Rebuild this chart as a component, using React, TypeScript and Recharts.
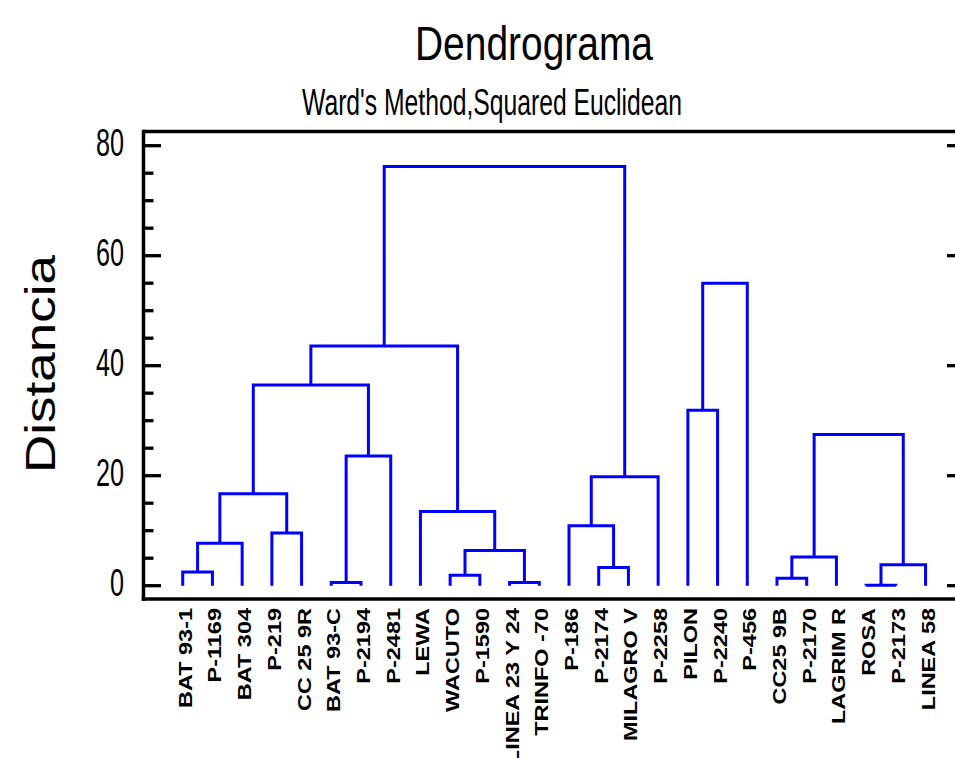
import React from 'react';
import { LineChart, Line, XAxis, YAxis, ReferenceLine } from 'recharts';

// Leaf labels, in dendrogram order
const leaves = [
  'BAT 93-1', 'P-1169', 'BAT 304', 'P-219', 'CC 25 9R', 'BAT 93-C', 'P-2194', 'P-2481',
  'LEWA', 'WACUTO', 'P-1590', 'LINEA 23 Y 24', 'TRINFO -70', 'P-186', 'P-2174', 'MILAGRO V',
  'P-2258', 'PILON', 'P-2240', 'P-456', 'CC25 9B', 'P-2170', 'LAGRIM R', 'ROSA', 'P-2173', 'LINEA 58',
];

// Linkage (ids < 26 are leaves, row k creates cluster 26 + k)
const linkLeft = [0, 26, 3, 27, 5, 30, 29, 9, 11, 33, 8, 32, 14, 13, 39, 37, 17, 42, 20, 44, 23, 46, 45];
const linkRight = [1, 2, 4, 28, 6, 7, 31, 10, 12, 34, 35, 36, 15, 38, 16, 40, 18, 19, 21, 22, 24, 25, 47];
const linkHeight = [2.5, 7.7, 9.6, 16.7, 0.6, 23.6, 36.5, 1.9, 0.6, 6.4, 13.5, 43.6, 3.3, 10.9, 19.8, 76.2, 31.9, 55.0, 1.35, 5.2, 0.1, 3.8, 27.5];

const yTicksAll = [0, 5, 10, 15, 20, 25, 30, 35, 40, 45, 50, 55, 60, 65, 70, 75, 80];
const yTicksMajor = [0, 20, 40, 60, 80];

const xDomain: [number, number] = [-1.32, 26.26];
const yDomain: [number, number] = [-2.42, 82.58];

const pos: number[] = leaves.map((_, i) => i);
const hgt: number[] = leaves.map(() => 0);
const segments = linkLeft.map((a, k) => {
  const b = linkRight[k];
  const h = linkHeight[k];
  const pts = [
    { x: pos[a], y: hgt[a] },
    { x: pos[a], y: h },
    { x: pos[b], y: h },
    { x: pos[b], y: hgt[b] },
  ];
  pos.push((pos[a] + pos[b]) / 2);
  hgt.push(h);
  return pts;
});

const FONT = "'Liberation Sans', Arial, Helvetica, sans-serif";

const LeafTick = (props: any) => {
  const { x, y, payload } = props;
  return (
    <g transform={`translate(${x},${y + 9}) rotate(-90) scale(1.27,1)`}>
      <text x={0} y={9} textAnchor="end" fontFamily={FONT} fontWeight="bold" fontSize={18.5} fill="#000">
        {leaves[payload.value]}
      </text>
    </g>
  );
};

const LeftTick = (props: any) => {
  const { x, y, payload } = props;
  const v = payload.value;
  const major = v % 20 === 0;
  const label = String(v);
  return (
    <g>
      <line x1={x} x2={x + (major ? 17.5 : 10)} y1={y} y2={y} stroke="#000" strokeWidth={3.3} />
      {major && (
        <text
          x={x - 19.5}
          y={y + 10}
          textAnchor="end"
          fontFamily={FONT}
          fontSize={39}
          textLength={14 * label.length}
          lengthAdjust="spacingAndGlyphs"
          fill="#000"
        >
          {label}
        </text>
      )}
    </g>
  );
};

const RightTick = (props: any) => {
  const { x, y } = props;
  return <line x1={x - 16} x2={x} y1={y} y2={y} stroke="#000" strokeWidth={3.3} />;
};

const axisLineStyle = { stroke: '#000', strokeWidth: 3.5, strokeLinecap: 'square' as const };

export default function App() {
  return (
    <div style={{ position: 'fixed', left: 0, top: 0, width: 955, height: 758, overflow: 'hidden', background: '#fff' }}>
      <LineChart width={990} height={758} margin={{ top: 131.5, right: 0, bottom: 0, left: 0 }}>
        <XAxis
          type="number"
          dataKey="x"
          domain={xDomain}
          allowDataOverflow
          ticks={leaves.map((_, i) => i)}
          interval={0}
          tick={LeafTick}
          tickLine={false}
          tickSize={0}
          tickMargin={0}
          height={159}
          axisLine={axisLineStyle}
        />
        <YAxis
          type="number"
          domain={yDomain}
          allowDataOverflow
          ticks={yTicksAll}
          interval={0}
          width={143.5}
          tick={LeftTick}
          tickLine={false}
          tickSize={0}
          tickMargin={0}
          axisLine={axisLineStyle}
        />
        <YAxis
          yAxisId="r"
          orientation="right"
          type="number"
          domain={yDomain}
          allowDataOverflow
          ticks={yTicksMajor}
          interval={0}
          width={27}
          tick={RightTick}
          tickLine={false}
          tickSize={0}
          tickMargin={0}
          axisLine={axisLineStyle}
        />
        <ReferenceLine y={yDomain[1]} stroke="#000" strokeWidth={3.5} ifOverflow="visible" />
        {segments.map((d, i) => (
          <Line
            key={i}
            data={d}
            dataKey="y"
            type="linear"
            stroke="#0000ff"
            strokeWidth={3}
            dot={false}
            activeDot={false}
            isAnimationActive={false}
          />
        ))}
      </LineChart>
      <svg width={955} height={758} style={{ position: 'absolute', left: 0, top: 0, pointerEvents: 'none' }}>
        <line x1={141.75} x2={955} y1={131.5} y2={131.5} stroke="#000" strokeWidth={0} />
        <text x={415} y={59.5} fontFamily={FONT} fontSize={49} textLength={238} lengthAdjust="spacingAndGlyphs" fill="#000">
          Dendrograma
        </text>
        <text x={302} y={115} fontFamily={FONT} fontSize={37} textLength={380} lengthAdjust="spacingAndGlyphs" fill="#000">
          Ward's Method,Squared Euclidean
        </text>
        <text
          transform="translate(55,364) rotate(-90)"
          textAnchor="middle"
          fontFamily={FONT}
          fontSize={42}
          textLength={218}
          lengthAdjust="spacingAndGlyphs"
          fill="#000"
        >
          Distancia
        </text>
      </svg>
    </div>
  );
}
